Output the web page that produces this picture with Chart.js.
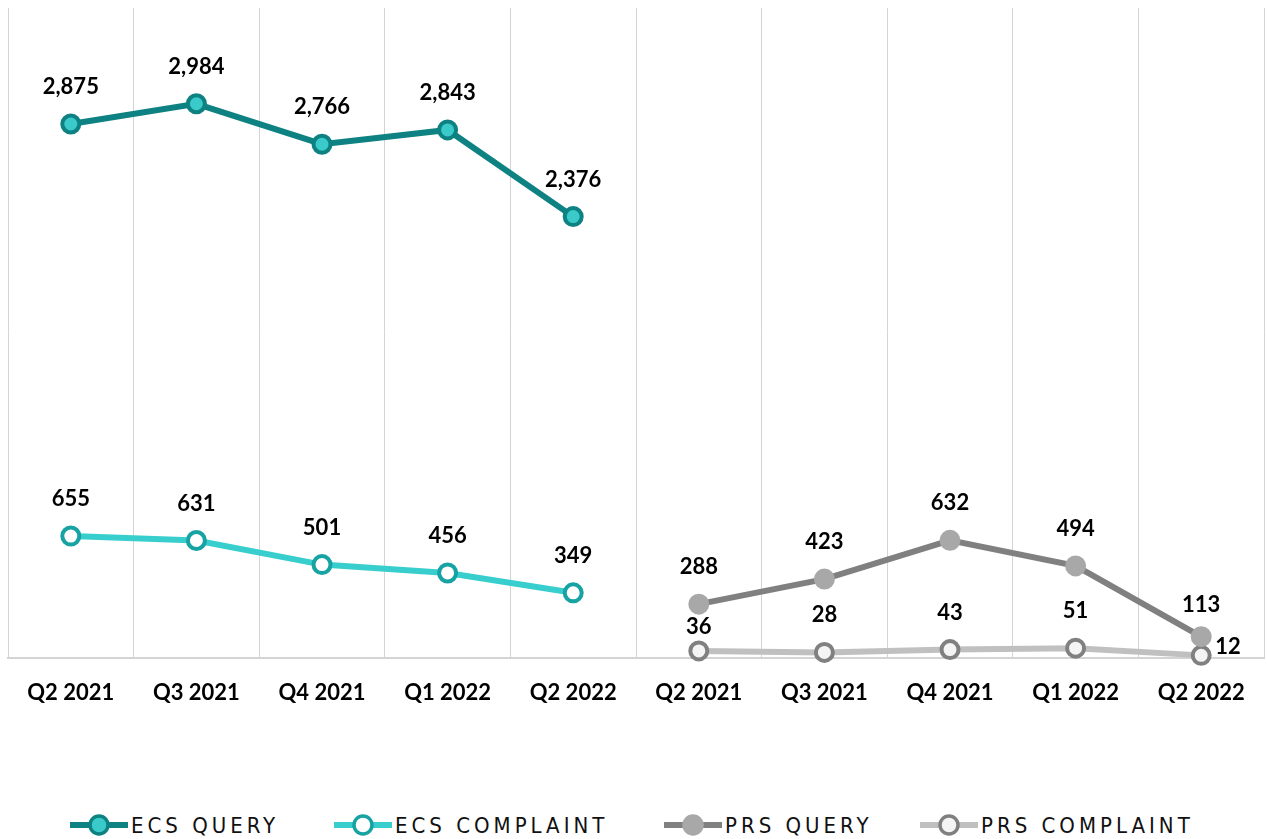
<!DOCTYPE html>
<html>
<head>
<meta charset="utf-8">
<script src="https://cdn.jsdelivr.net/npm/chart.js@4/dist/chart.umd.min.js"></script>
<style>
    body { margin: 0; background: #fff; }
    #wrap { position: relative; width: 1267px; height: 839px; }
    #chartCanvas { position: absolute; left: 0; top: 0; }
    #legend { position: absolute; left: 0; top: 810px; width: 1267px; height: 30px; }
    .item { position: absolute; top: 0; display: flex; align-items: center; }
    .item canvas { margin-right: 3px; }
    .item span {
        font-family: "Liberation Sans Narrow", "DejaVu Sans Condensed", sans-serif;
        font-size: 22px; letter-spacing: 4px; color: #111;
    }
</style>
</head>
<body>
<div id="wrap">
    <canvas id="chartCanvas" width="1267" height="728"></canvas>
    <div id="legend"></div>
</div>
<script>
const trimestres = ['Q2 2021', 'Q3 2021', 'Q4 2021', 'Q1 2022', 'Q2 2022',
                    'Q2 2021', 'Q3 2021', 'Q4 2021', 'Q1 2022', 'Q2 2022'];

const ecsQuery     = [2875, 2984, 2766, 2843, 2376, null, null, null, null, null];
const ecsComplaint = [655, 631, 501, 456, 349, null, null, null, null, null];
const prsQuery     = [null, null, null, null, null, 288, 423, 632, 494, 113];
const prsComplaint = [null, null, null, null, null, 36, 28, 43, 51, 12];

const nombresSeries = ['ECS QUERY', 'ECS COMPLAINT', 'PRS QUERY', 'PRS COMPLAINT'];

const estilos = [
    { linea: '#0E8282', relleno: '#3ACACA', borde: '#0E8282' },
    { linea: '#38CECE', relleno: '#FFFFFF', borde: '#17A3A3' },
    { linea: '#808080', relleno: '#A8A8A8', borde: '#A8A8A8' },
    { linea: '#C0C0C0', relleno: '#F4F4F4', borde: '#808080' }
];

// etiquetas de datos encima de cada punto
const pluginEtiquetas = {
    id: 'etiquetas',
    afterDatasetsDraw(chart) {
        const ctx = chart.ctx;
        ctx.save();
        ctx.font = 'bold 22px Lato, "Open Sans", sans-serif';
        ctx.fillStyle = '#000';
        ctx.textBaseline = 'middle';
        chart.data.datasets.forEach((ds, i) => {
            const meta = chart.getDatasetMeta(i);
            meta.data.forEach((pt, j) => {
                const v = ds.data[j];
                if (v === null) return;
                const txt = v.toLocaleString('en-US');
                let x = pt.x, y = pt.y - 37;
                ctx.textAlign = 'center';
                if (i === 3 && j === 9) { x = pt.x + 14; y = pt.y - 8; ctx.textAlign = 'left'; }
                else if (i === 3 && j === 5) { y = pt.y - 24; }
                else if (i === 2 && j === 9) { y = pt.y - 32; }
                ctx.fillText(txt, x, y);
            });
        });
        ctx.restore();
    }
};

const series = [ecsQuery, ecsComplaint, prsQuery, prsComplaint];

new Chart(document.getElementById('chartCanvas').getContext('2d'), {
    type: 'line',
    data: {
        labels: trimestres,
        datasets: series.map((d, i) => ({
            label: nombresSeries[i],
            data: d,
            borderColor: estilos[i].linea,
            backgroundColor: estilos[i].linea,
            borderWidth: 6,
            pointRadius: 8.5,
            pointBorderWidth: 4,
            pointBackgroundColor: estilos[i].relleno,
            pointBorderColor: estilos[i].borde,
            tension: 0,
            spanGaps: false,
            clip: false
        }))
    },
    options: {
        responsive: false,
        animation: false,
        layout: { autoPadding: false, padding: { left: 8, right: 3, top: 8, bottom: 0 } },
        plugins: { legend: { display: false }, tooltip: { enabled: false } },
        scales: {
            x: {
                offset: true,
                grid: { offset: true, color: '#D4D4D4', lineWidth: 1, drawTicks: false },
                border: { color: '#D4D4D4', width: 2 },
                ticks: {
                    color: '#000',
                    padding: 22,
                    maxRotation: 0,
                    autoSkip: false,
                    font: { family: 'Lato, "Open Sans", sans-serif', size: 22, weight: 'bold' }
                }
            },
            y: { display: false, min: 0, max: 3500 }
        }
    },
    plugins: [pluginEtiquetas]
});

// leyenda en HTML
const posicionesLeyenda = [70, 334, 664, 920];
const legend = document.getElementById('legend');
nombresSeries.forEach((nombre, i) => {
    const item = document.createElement('div');
    item.className = 'item';
    item.style.left = posicionesLeyenda[i] + 'px';
    const c = document.createElement('canvas');
    c.width = 58; c.height = 30;
    const g = c.getContext('2d');
    g.strokeStyle = estilos[i].linea;
    g.lineWidth = 6;
    g.beginPath(); g.moveTo(0, 15); g.lineTo(58, 15); g.stroke();
    g.beginPath(); g.arc(29, 15, 9, 0, Math.PI * 2);
    g.fillStyle = estilos[i].relleno; g.fill();
    g.lineWidth = 3.5; g.strokeStyle = estilos[i].borde; g.stroke();
    const s = document.createElement('span');
    s.textContent = nombre;
    item.appendChild(c);
    item.appendChild(s);
    legend.appendChild(item);
});
</script>
</body>
</html>
